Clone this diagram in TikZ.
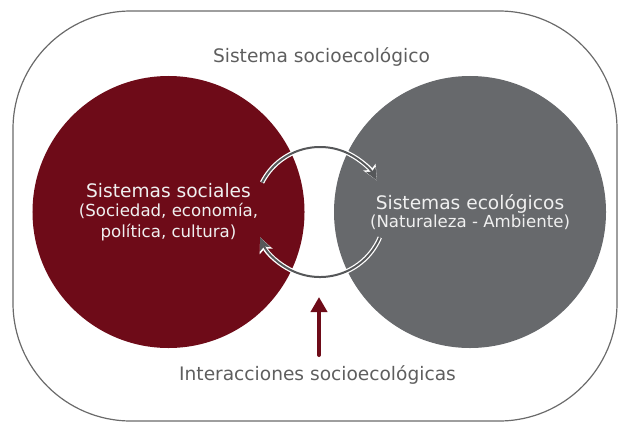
\documentclass[tikz,border=0pt]{standalone}
\usepackage{fontspec}
\setmainfont{DejaVu Sans}
\usetikzlibrary{arrows.meta}
\definecolor{socred}{HTML}{6E0B18}
\definecolor{ecogray}{HTML}{67696C}
\definecolor{txtgray}{HTML}{5E5E5E}
\definecolor{linegray}{HTML}{6A6A6A}
\definecolor{arcgray}{HTML}{555759}
\newcommand\mysubsize{\fontsize{16.6bp}{21bp}\selectfont}
\tikzset{
  outerbox/.style={draw=linegray, line width=1.2bp, rounded corners=118bp},
  bigcircle/.style={circle, minimum size=272bp, inner sep=0pt, text=white!94!black, align=center,
    font=\fontsize{18.6bp}{21bp}\selectfont},
  plain/.style={text=txtgray, font=\fontsize{18.6bp}{21bp}\selectfont, inner sep=0pt},
  cycbg/.style={draw=white, line width=4.5bp, -{Stealth[length=15bp,width=13.5bp,inset=3bp]}},
  cycfg/.style={draw=arcgray, line width=2bp, -{Stealth[length=12.5bp,width=10.5bp,inset=2.5bp,fill=arcgray]}},
  redarrow/.style={draw=socred, line width=4bp, line cap=round, -{Triangle[length=15bp,width=16bp]}}
}
\begin{document}
\begin{tikzpicture}[x=1bp,y=1bp]
\useasboundingbox (0,0) rectangle (618,422);
\draw[outerbox] (13,1) rectangle (617,411);
\node[plain, anchor=base] (title) at (321.5,360) {Sistema socioecológico};
\node[bigcircle, fill=socred] (social) at (168.5,210)
  {Sistemas sociales\\[-2bp] {\mysubsize(Sociedad, economía,}\\[0bp] {\mysubsize política, cultura)}};
\node[bigcircle, fill=ecogray] (eco) at (470,210)
  {Sistemas ecológicos\\[-2.5bp] {\mysubsize(Naturaleza - Ambiente)}};
\coordinate (cyc) at (320,210);
\draw[cycbg] ([shift={(153:65)}]cyc) arc[start angle=153, end angle=29, radius=65];
\draw[cycfg] ([shift={(153:65)}]cyc) arc[start angle=153, end angle=29, radius=65];
\draw[cycbg] ([shift={(-23:65)}]cyc) arc[start angle=-23, end angle=-157, radius=65];
\draw[cycfg] ([shift={(-23:65)}]cyc) arc[start angle=-23, end angle=-157, radius=65];
\node[plain, anchor=base] (inter) at (317.5,42) {Interacciones socioecológicas};
\coordinate (redtail) at (319,67);
\coordinate (redhead) at (319,125);
\draw[redarrow] (redtail) -- (redhead);
\end{tikzpicture}
\end{document}
